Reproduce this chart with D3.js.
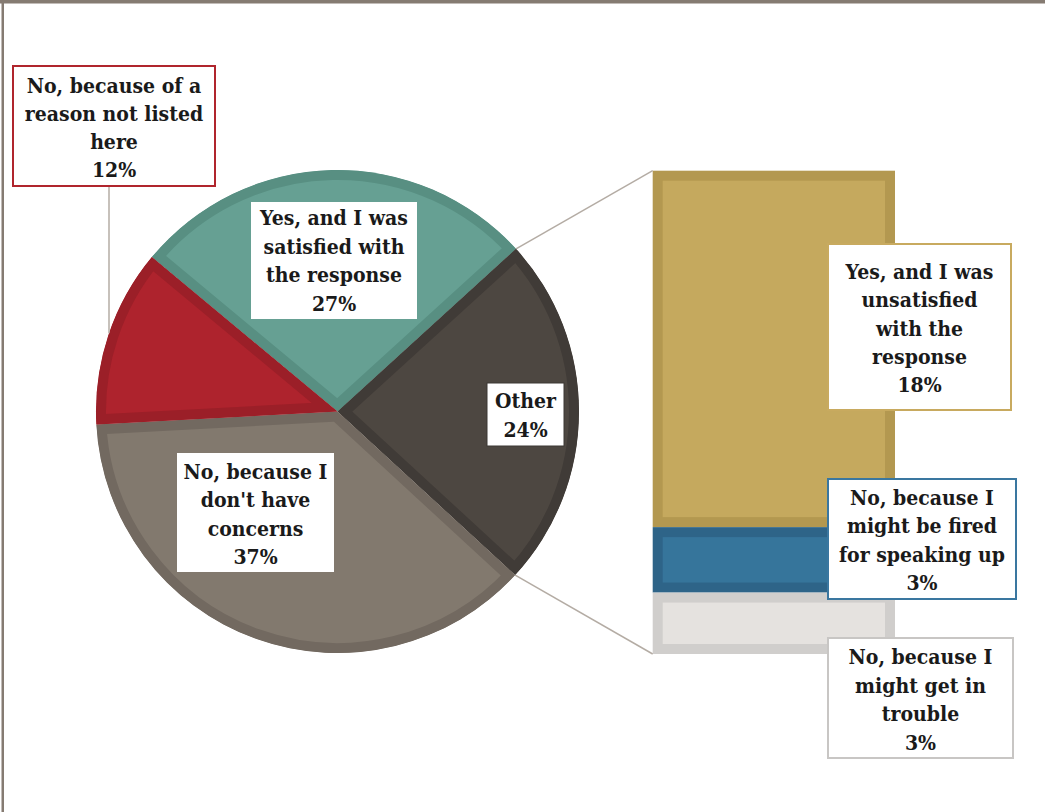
<!DOCTYPE html>
<html><head><meta charset="utf-8">
<script src="https://cdn.jsdelivr.net/npm/d3@7"></script>
<style>
html,body{margin:0;padding:0;background:#fff;}
svg{display:block;}
text{font-family:"DejaVu Serif Condensed","DejaVu Serif",serif;font-stretch:condensed;font-weight:bold;fill:#1a1a1a;}
</style></head>
<body>
<svg id="chart" width="1045" height="812"></svg>
<script>
// ---- data ----
const pieCategories = ["Yes, and I was satisfied with the response", "Other", "No, because I don't have concerns", "No, because of a reason not listed here"];
const pieValues = [27.2, 23.6, 37.3, 11.9];
const barCategories = ["Yes, and I was unsatisfied with the response", "No, because I might be fired for speaking up", "No, because I might get in trouble"];
const barValues = [17.7, 3.25, 3.05];
const pieLabelLines = [["Yes, and I was","satisfied with","the response"],["Other"],["No, because I","don't have","concerns"],["No, because of a","reason not listed","here"]];
const barLabelLines = [["Yes, and I was","unsatisfied","with the","response"],["No, because I","might be fired","for speaking up"],["No, because I","might get in","trouble"]];

const pieFill = ["#66a093","#4d4741","#82796e","#ae232d"];
const pieEdge = ["#588f82","#403b37","#726960","#9b1f28"];
const barFill = ["#c5a95e","#36759b","#e5e2df"];
const barEdge = ["#b39850","#2e6488","#d0cecc"];

const svg = d3.select("#chart");

// frame
svg.append("rect").attr("x",0).attr("y",0).attr("width",1045).attr("height",3.5).attr("fill","#857b72");
svg.append("rect").attr("x",1.5).attr("y",0).attr("width",2.5).attr("height",812).attr("fill","#857b72");

const cx = 337.5, cy = 411.5, R = 241.5;
const startA = -50.25 * Math.PI/180;
const pie = d3.pie().sort(null).startAngle(startA).endAngle(startA + 2*Math.PI);
const arcs = pie(pieValues);
const arc = d3.arc().innerRadius(0).outerRadius(R);
const defs = svg.append("defs");

arcs.forEach((a,i)=>{
  defs.append("clipPath").attr("id","clipSlice"+i)
    .append("path").attr("d",arc(a)).attr("transform",`translate(${cx},${cy})`);
});
const sliceLayer = svg.append("g");
arcs.forEach((a,i)=>{
  sliceLayer.append("g").attr("clip-path",`url(#clipSlice${i})`)
    .append("path").attr("transform",`translate(${cx},${cy})`)
    .attr("d",arc(a)).attr("fill",pieFill[i]).attr("stroke",pieEdge[i]).attr("stroke-width",20);
});

// bar of "Other"
const barX = 652.7, barW = 242.3;
const barY = d3.scaleLinear().domain([0, d3.sum(barValues)]).range([170.7, 654]);
let cum = 0;
const barSegs = barValues.map(v=>{const s={y0:cum,y1:cum+v}; cum+=v; return s;});
barSegs.forEach((s,i)=>{
  const y0 = barY(s.y0), y1 = barY(s.y1);
  svg.append("rect").attr("x",barX).attr("y",y0).attr("width",barW).attr("height",y1-y0).attr("fill",barEdge[i]);
  svg.append("rect").attr("x",barX+10).attr("y",y0+10).attr("width",barW-20).attr("height",Math.max(0,y1-y0-20)).attr("fill",barFill[i]);
});

// connector lines
const otherArc = arcs[1];
function pt(ang){ return [cx + R*Math.sin(ang), cy - R*Math.cos(ang)]; }
const p1 = pt(otherArc.startAngle), p2 = pt(otherArc.endAngle);
svg.append("line").attr("x1",p1[0]).attr("y1",p1[1]).attr("x2",barX).attr("y2",barY(0)).attr("stroke","#b4aca4").attr("stroke-width",1.5);
svg.append("line").attr("x1",p2[0]).attr("y1",p2[1]).attr("x2",barX).attr("y2",barY(d3.sum(barValues))).attr("stroke","#b4aca4").attr("stroke-width",1.5);

// leader for red label
const lx = 109;
const ly = cy - Math.sqrt(R*R - (cx-lx)*(cx-lx));
svg.append("line").attr("x1",lx).attr("y1",187).attr("x2",lx).attr("y2",ly).attr("stroke","#b4aca4").attr("stroke-width",1.5);

// labels
function label(box, lines, pct, border, bw, firstBase, step){
  svg.append("rect").attr("x",box[0]).attr("y",box[1]).attr("width",box[2]-box[0]).attr("height",box[3]-box[1])
    .attr("fill","#fff").attr("stroke",border||"none").attr("stroke-width",bw||0);
  const t = svg.append("text").attr("text-anchor","middle").attr("font-size",21);
  lines.concat([pct]).forEach((l,k)=>{
    t.append("tspan").attr("x",(box[0]+box[2])/2).attr("y",firstBase + k*step).text(l);
  });
}
const fmt = v => Math.round(v) + "%";
label([13,66,215,186], pieLabelLines[3], fmt(pieValues[3]), "#b0252d", 2, 93, 28);
label([251,202,417,319], pieLabelLines[0], fmt(pieValues[0]), null, 0, 225, 28.7);
label([487,383,564,446], pieLabelLines[1], fmt(pieValues[1]), "#3d3834", 1, 408, 29);
label([177,453,334,572], pieLabelLines[2], fmt(pieValues[2]), null, 0, 479, 28.3);
label([828,244,1011,410], barLabelLines[0], fmt(barValues[0]), "#c8aa5f", 2, 279, 28.3);
label([828,479,1016,599], barLabelLines[1], fmt(barValues[1]), "#3a77a0", 2, 505, 28.3);
label([828,638,1013,758], barLabelLines[2], fmt(barValues[2]), "#c8c6c4", 2, 664, 28.7);
</script>
</body></html>
